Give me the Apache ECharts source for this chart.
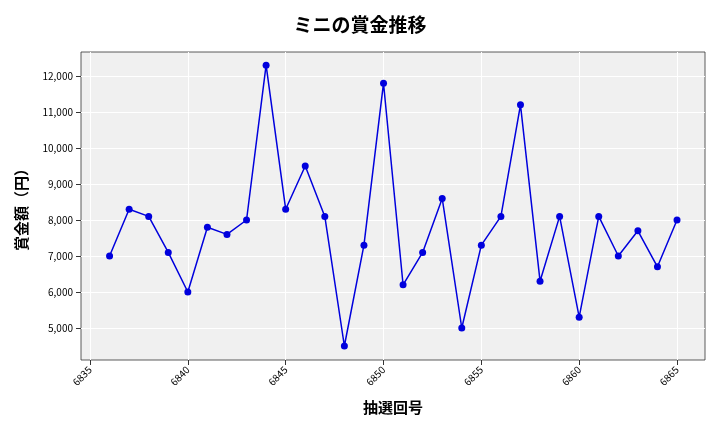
<!DOCTYPE html>
<html><head><meta charset="utf-8">
<script src="https://cdn.jsdelivr.net/npm/echarts@6/dist/echarts.min.js"></script>
<style>html,body{margin:0;padding:0;background:#fff}#c{width:720px;height:432px}</style>
</head><body><div id="c"></div>
<script>
const draws = [6836,6837,6838,6839,6840,6841,6842,6843,6844,6845,6846,6847,6848,6849,6850,6851,6852,6853,6854,6855,6856,6857,6858,6859,6860,6861,6862,6863,6864,6865];
const prizes = [7000,8300,8100,7100,6000,7800,7600,8000,12300,8300,9500,8100,4500,7300,11800,6200,7100,8600,5000,7300,8100,11200,6300,8100,5300,8100,7000,7700,6700,8000];
const xTicks = [6835,6840,6845,6850,6855,6860,6865];
const yTicks = [5000,6000,7000,8000,9000,10000,11000,12000];
const font = '"Noto Sans CJK JP","Noto Sans",sans-serif';
const chart = echarts.init(document.getElementById('c'));
chart.setOption({
  animation:false,
  title:{text:'ミニの賞金推移',left:'center',top:10,textStyle:{fontFamily:font,fontSize:19,fontWeight:'bold',color:'#000'}},
  grid:{left:81,right:15,top:52,bottom:72,show:true,backgroundColor:'#f0f0f0',borderColor:'#333',borderWidth:0.8},
  xAxis:{type:'value',min:6834.54,max:6866.43,
    name:'抽選回号',nameLocation:'middle',nameGap:40,nameTextStyle:{fontFamily:font,fontSize:15,fontWeight:'bold',color:'#000'},
    axisLine:{show:false},
    axisTick:{show:true,customValues:xTicks,lineStyle:{color:'#333'}},
    axisLabel:{customValues:xTicks,rotate:45,fontSize:10,color:'#000',fontFamily:font,formatter:v=>String(v)},
    splitLine:{show:true,lineStyle:{color:'#fff',width:1}}},
  yAxis:{type:'value',min:4111,max:12667,
    name:'賞金額（円）',nameLocation:'middle',nameGap:52,nameTextStyle:{fontFamily:font,fontSize:15,fontWeight:'bold',color:'#000'},
    axisLine:{show:false},
    axisTick:{show:true,customValues:yTicks,lineStyle:{color:'#333'}},
    axisLabel:{customValues:yTicks,fontSize:10,color:'#000',fontFamily:font,formatter:v=>Number(v).toLocaleString('en-US')},
    splitLine:{show:true,lineStyle:{color:'#fff',width:1}}},
  series:[{type:'line',data:draws.map((d,i)=>[d,prizes[i]]),symbol:'circle',symbolSize:7,
    itemStyle:{color:'#0000dd'},lineStyle:{color:'#0000dd',width:1.5}}]
});
</script></body></html>
